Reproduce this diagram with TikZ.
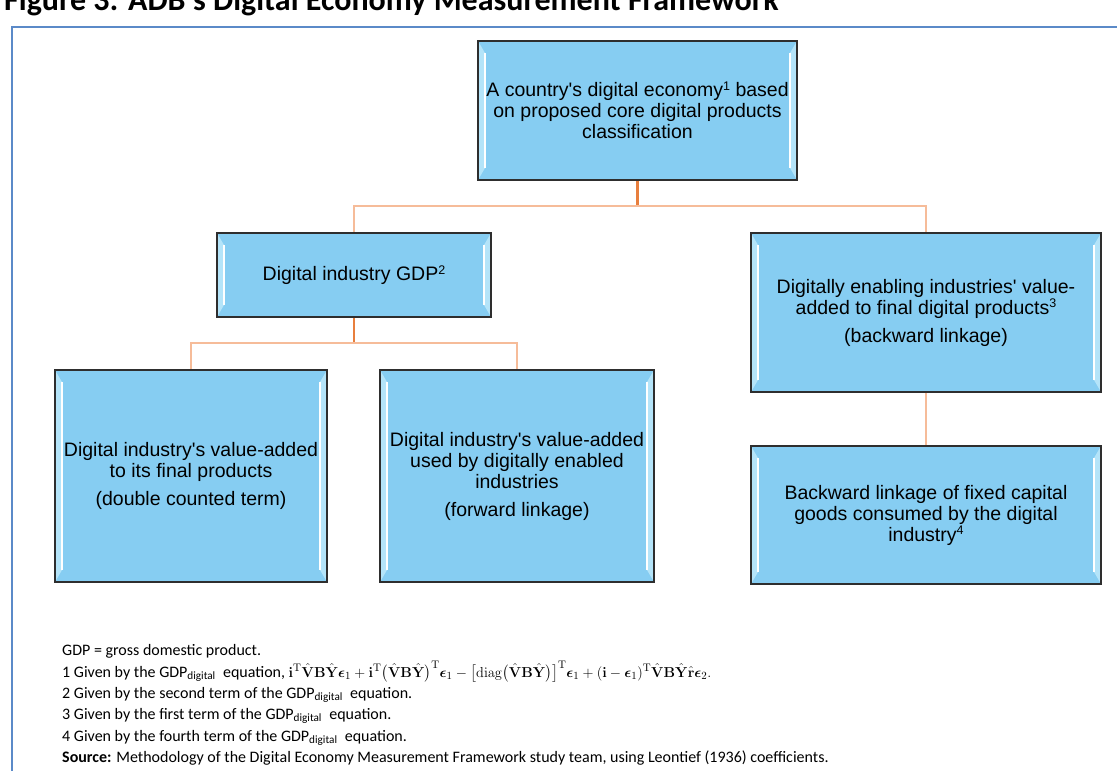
\documentclass[tikz,border=0pt]{standalone}
\usepackage[no-math]{fontspec}
\usepackage{amsmath,bm}
\setmainfont{Liberation Sans}[Ligatures=TeXOff]
\newfontfamily\calibri{Carlito}[Ligatures=TeXOff]

\definecolor{boxfill}{HTML}{86CDF2}
\definecolor{boxedge}{HTML}{2E2E2E}
\definecolor{bevellight}{HTML}{B4E4F9}
\definecolor{linkdark}{HTML}{E87F3E}
\definecolor{linklight}{HTML}{F6BC99}
\definecolor{framecol}{HTML}{5B8AC8}

\tikzset{
  dbox/.style={draw=boxedge, line width=2pt, fill=boxfill, align=center, inner sep=0pt,
    font=\fontsize{19.5}{21}\selectfont,
    path picture={
      \fill[bevellight] (path picture bounding box.north west) -- ++(7pt,-12pt)
        -- ([xshift=7pt,yshift=12pt]path picture bounding box.south west)
        -- (path picture bounding box.south west) -- cycle;
      \fill[bevellight] (path picture bounding box.north east) -- ++(-7pt,-12pt)
        -- ([xshift=-7pt,yshift=12pt]path picture bounding box.south east)
        -- (path picture bounding box.south east) -- cycle;
      \draw[white, line width=1.2pt] ([xshift=7pt,yshift=-12pt]path picture bounding box.north west)
        -- ([xshift=7pt,yshift=12pt]path picture bounding box.south west);
      \draw[white, line width=1.2pt] ([xshift=-7pt,yshift=-12pt]path picture bounding box.north east)
        -- ([xshift=-7pt,yshift=12pt]path picture bounding box.south east);
    }},
  darklink/.style={linkdark, line width=2.5pt},
  lightlink/.style={linklight, line width=2pt},
  note/.style={anchor=base west, inner sep=0pt, font=\calibri\fontsize{16}{21}\selectfont}
}

\newcommand{\gdpdig}{GDP\textsubscript{digital}}
\newcommand{\boxsup}[1]{\raisebox{0.6ex}{\fontsize{12.5}{12.5}\selectfont #1}}
\newcommand{\hv}{\hat{\mathbf{V}}}
\newcommand{\hy}{\hat{\mathbf{Y}}}
\newcommand{\eps}{\bm{\epsilon}}

\begin{document}
\begin{tikzpicture}[x=1pt,y=-1pt]
\useasboundingbox (0,0) rectangle (1117,771);
\fill[white] (0,0) rectangle (1117,771);

% title, cut at the top
\node[anchor=base west, inner sep=0pt, font=\calibri\bfseries\fontsize{32}{36}\selectfont] (title) at (4,10)
  {Figure 3: ADB's Digital Economy Measurement Framework};
\draw[framecol, line width=2pt] (12,27) rectangle (1140,800);

% connectors
\coordinate (topbot) at (637.5,180);
\coordinate (gdpbot) at (354,317);
\draw[darklink] (topbot) -- ++(0,26) coordinate (j1);
\draw[lightlink] (354,233) |- (j1) -| (926,233);
\draw[darklink] (gdpbot) -- ++(0,26) coordinate (j2);
\draw[lightlink] (191,370) |- (j2) -| (517,370);
\draw[lightlink] (926,392) -- (926,446);

% boxes
\node[dbox, minimum width=319pt, minimum height=139pt] (top) at (637.5,110.5)
  {A country's digital economy\boxsup{1} based\\on proposed core digital products\\classification};
\node[dbox, minimum width=274pt, minimum height=84pt] (gdp) at (354,275)
  {Digital industry GDP\boxsup{2}};
\node[dbox, minimum width=350pt, minimum height=159pt] (enab) at (926,312.5)
  {Digitally enabling industries' value-\\added to final digital products\boxsup{3}\\[7pt](backward linkage)};
\node[dbox, minimum width=272pt, minimum height=212pt] (fin) at (191,476)
  {Digital industry's value-added\\to its final products\\[7pt](double counted term)};
\node[dbox, minimum width=274pt, minimum height=212pt] (fwd) at (517,476)
  {Digital industry's value-added\\used by digitally enabled\\industries\\[7pt](forward linkage)};
\node[dbox, minimum width=350pt, minimum height=138pt] (cap) at (926,515)
  {Backward linkage of fixed capital\\goods consumed by the digital\\industry\boxsup{4}};

% notes
\node[note] (n1) at (62,655) {GDP = gross domestic product.};
\node[note] (n2) at (62,677) {1 Given by the \gdpdig\ \ equation, \fontsize{15.5}{21}\selectfont
  $\mathbf{i}^{\mathrm{T}}\hv\mathbf{B}\hy\eps_1
  +\mathbf{i}^{\mathrm{T}}\bigl(\hv\mathbf{B}\hy\bigr)^{\mathrm{T}}\eps_1
  -\bigl[\mathrm{diag}\bigl(\hv\mathbf{B}\hy\bigr)\bigr]^{\mathrm{T}}\eps_1
  +(\mathbf{i}-\eps_1)^{\mathrm{T}}\hv\mathbf{B}\hy\hat{\mathbf{r}}\eps_2.$};
\node[note] (n3) at (62,698) {2 Given by the second term of the \gdpdig\ \ equation.};
\node[note] (n4) at (62,719) {3 Given by the first term of the \gdpdig\ \ equation.};
\node[note] (n5) at (62,741) {4 Given by the fourth term of the \gdpdig\ \ equation.};
\node[note] (n6) at (62,762) {\textbf{Source:} Methodology of the Digital Economy Measurement Framework study team, using Leontief (1936) coefficients.};

\end{tikzpicture}
\end{document}
